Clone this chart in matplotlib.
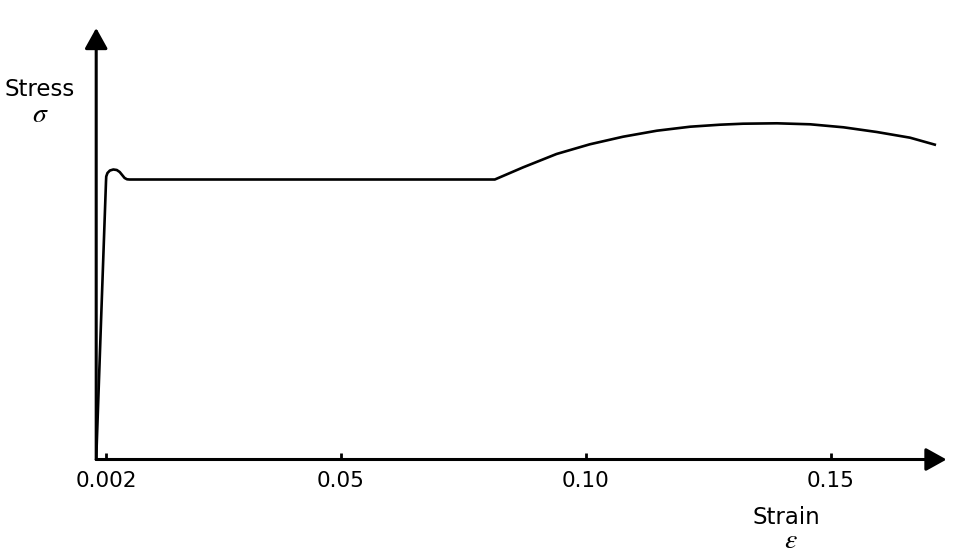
import matplotlib
matplotlib.use("Agg")
import matplotlib.pyplot as plt
from matplotlib.patches import FancyArrowPatch

plt.rcParams["mathtext.fontset"] = "stix"

# Strain / stress points (stress in arbitrary units)
strain = [0.0, 0.0010, 0.0020, 0.00205, 0.0023, 0.0028, 0.0035, 0.0042,
          0.0048, 0.0053, 0.0058, 0.0063, 0.0068, 0.0814,
          0.0872, 0.0940, 0.1008, 0.1076, 0.1145, 0.1213, 0.1274, 0.1321,
          0.1390, 0.1458, 0.1526, 0.1594, 0.1662, 0.1715]
stress = [0.0, 140.0, 278.0, 283.0, 286.5, 289.0, 290.0, 289.5,
          287.5, 284.5, 281.5, 280.2, 280.0, 280.0,
          292.2, 305.5, 315.2, 322.8, 328.8, 332.8, 334.8, 335.8,
          336.2, 335.2, 332.2, 327.5, 321.8, 314.5]

tick_vals = [0.002, 0.05, 0.10, 0.15]
tick_labels = ["0.002", "0.05", "0.10", "0.15"]

W, H = 954, 560
fig = plt.figure(figsize=(W / 100, H / 100), dpi=100)
x0, y0 = 96.2, 459.5
px_per_strain = 4897.0
xmax = (W - x0) / px_per_strain
ymax = y0 - 20
ax = fig.add_axes([x0 / W, (H - y0) / H, (W - x0) / W, ymax / H])
ax.set_xlim(0, xmax)
ax.set_ylim(0, ymax)
for s in ax.spines.values():
    s.set_visible(False)
ax.patch.set_alpha(0)

ax.plot(strain, stress, color="black", lw=1.9, solid_joinstyle="round",
        solid_capstyle="butt", zorder=3)

# axes arrows
x_tip = (946.5 - x0) / px_per_strain
y_tip = y0 - 28
for end in [(x_tip, 0), (0, y_tip)]:
    arr = FancyArrowPatch((0, 0), end, arrowstyle="-|>,head_length=0.9,head_width=0.5",
                          mutation_scale=14, color="black", lw=2.2,
                          shrinkA=0, shrinkB=0, zorder=4, clip_on=False)
    ax.add_patch(arr)

ax.set_xticks(tick_vals)
ax.set_xticklabels(tick_labels, fontsize=15.5, family="DejaVu Sans")
ax.tick_params(axis="x", direction="in", length=5, width=2, pad=8, color="black")
ax.set_yticks([])

def ftext(x, y, s, **kw):
    fig.text(x / W, 1 - y / H, s, ha="center", va="center", **kw)

ftext(40, 90, "Stress", fontsize=16.5, family="DejaVu Sans")
ftext(40, 114, r"$\sigma$", fontsize=20)
ftext(786, 517, "Strain", fontsize=16.5, family="DejaVu Sans")
ftext(791, 540, r"$\varepsilon$", fontsize=20)

fig.savefig("out.png", dpi=100)
